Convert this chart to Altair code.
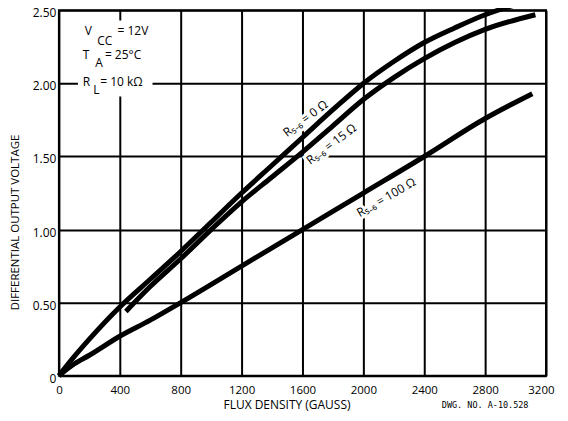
import altair as alt
import pandas as pd

# ---- curve data (flux density in gauss, differential output voltage in volts) ----
g_r0 = [0, 100, 200, 400, 600, 800, 1000, 1200, 1400, 1600, 1800, 2000, 2200, 2400, 2600, 2800, 3040]
v_r0 = [0, 0.13, 0.25, 0.47, 0.66, 0.85, 1.05, 1.25, 1.44, 1.63, 1.82, 2.00, 2.15, 2.28, 2.38, 2.47, 2.55]

g_r15 = [440, 600, 800, 1000, 1200, 1400, 1600, 1800, 2000, 2200, 2400, 2600, 2800, 3130]
v_r15 = [0.44, 0.61, 0.80, 1.00, 1.19, 1.36, 1.53, 1.71, 1.89, 2.04, 2.17, 2.28, 2.37, 2.47]

g_r100 = [0, 100, 200, 400, 600, 800, 1200, 1600, 2000, 2400, 2800, 3110]
v_r100 = [0, 0.08, 0.14, 0.27, 0.38, 0.50, 0.75, 1.00, 1.25, 1.50, 1.76, 1.93]

# ---- axis ticks ----
x_ticks = [0, 400, 800, 1200, 1600, 2000, 2400, 2800, 3200]
y_ticks = [0, 0.5, 1.0, 1.5, 2.0, 2.5]

# ---- curve labels ----
lab_text = ["R₅₋₆ = 0 Ω", "R₅₋₆ = 15 Ω", "R₅₋₆ = 100 Ω"]
lab_g = [1620, 1790, 2150]
lab_v = [1.76, 1.585, 1.22]
lab_angle = [323, 323, 330]

# ---- test-condition block ----
cond_text = ["V", "CC", "= 12V", "T", "A", "= 25°C", "R", "L", "= 10 kΩ"]
cond_g = [170, 252, 385, 157, 238, 302, 157, 225, 272]
cond_v = [2.33, 2.26, 2.33, 2.17, 2.11, 2.17, 1.98, 1.93, 1.98]
box_g = [125, 615]
box_v = [1.91, 2.43]

note_text = ["DWG. NO. A-10.528"]
note_g = [2800]
note_v = [-0.2]

FONT = "Open Sans"

rows = []
for name, gs, vs in [("0", g_r0, v_r0), ("15", g_r15, v_r15), ("100", g_r100, v_r100)]:
    for g, v in zip(gs, vs):
        rows.append({"series": name, "g": g, "v": v})
curves = pd.DataFrame(rows)
labels = pd.DataFrame({"t": lab_text, "g": lab_g, "v": lab_v, "a": lab_angle})
cond = pd.DataFrame({"t": cond_text, "g": cond_g, "v": cond_v})
box = pd.DataFrame({"g": [box_g[0]], "g2": [box_g[1]], "v": [box_v[0]], "v2": [box_v[1]]})
note = pd.DataFrame({"t": note_text, "g": note_g, "v": note_v})

xscale = alt.Scale(domain=[0, 3200], nice=False, zero=False)
yscale = alt.Scale(domain=[0, 2.5], nice=False, zero=False)

last_tick = "datum.value >= %d" % x_ticks[-1]

xaxis = alt.Axis(
    values=x_ticks, format="d", grid=True, gridColor="black", gridWidth=2, gridOpacity=1,
    domain=False, ticks=False, labelPadding=9, labelFont=FONT, labelFontSize=11.5,
    labelColor="black", labelFlush=False, labelOverlap=False, labelBound=False,
    labelAlign={"condition": {"test": last_tick, "value": "right"}, "value": "center"},
    labelOffset={"condition": {"test": last_tick, "value": 8}, "value": 0},
    title="FLUX DENSITY (GAUSS)", titleFont=FONT, titleFontSize=12,
    titleFontWeight="normal", titleColor="black",
    titleX=228, titleY=29, titleAlign="center", titleBaseline="middle", titleAngle=0,
)
yaxis = alt.Axis(
    values=y_ticks, grid=True, gridColor="black", gridWidth=2, gridOpacity=1,
    domain=False, ticks=False, labelPadding=3, labelFont=FONT, labelFontSize=12,
    labelColor="black", labelFlush=False, labelOverlap=False, labelBound=False,
    labelOffset=2.5,
    labelExpr="datum.value == 0 ? '0' : format(datum.value, '.2f')",
    title="DIFFERENTIAL OUTPUT VOLTAGE", titleFont=FONT, titleFontSize=11.5,
    titleFontWeight="normal", titleColor="black",
    titleX=-43, titleY=212, titleAlign="center", titleBaseline="middle", titleAngle=-90,
)

bg = alt.Chart(box).mark_rect(color="white").encode(
    x=alt.X("g:Q", scale=xscale, axis=xaxis),
    x2="g2:Q",
    y=alt.Y("v:Q", scale=yscale, axis=yaxis),
    y2="v2:Q",
)

halo = alt.Chart(labels).mark_text(
    font=FONT, fontSize=12, stroke="white", strokeWidth=6, color="white",
    align="center", baseline="middle",
).encode(x=alt.X("g:Q", scale=xscale), y=alt.Y("v:Q", scale=yscale), text="t:N", angle=alt.Angle("a:Q", scale=None))

lines = alt.Chart(curves).mark_line(
    color="black", strokeWidth=5, interpolate="monotone", strokeCap="butt"
).encode(
    x=alt.X("g:Q", scale=xscale),
    y=alt.Y("v:Q", scale=yscale),
    detail="series:N",
)

texts = alt.Chart(labels).mark_text(
    font=FONT, fontSize=12, color="black", align="center", baseline="middle",
).encode(x=alt.X("g:Q", scale=xscale), y=alt.Y("v:Q", scale=yscale), text="t:N", angle=alt.Angle("a:Q", scale=None))

cond_marks = alt.Chart(cond).mark_text(
    font=FONT, fontSize=12, color="black", align="left", baseline="alphabetic",
).encode(x=alt.X("g:Q", scale=xscale), y=alt.Y("v:Q", scale=yscale), text="t:N")

note_mark = alt.Chart(note).mark_text(
    font="DejaVu Sans Mono", fontSize=8.5, color="black", align="center", baseline="middle",
).encode(x=alt.X("g:Q", scale=xscale), y=alt.Y("v:Q", scale=yscale), text="t:N")

chart = alt.layer(bg, halo, lines, texts, cond_marks, note_mark).properties(
    width=488, height=366,
    autosize=alt.AutoSizeParams(type="none"),
    padding={"left": 51, "top": 2, "right": 14, "bottom": 37},
    background="white",
).configure_view(stroke="black", strokeWidth=2)

chart.save("out.html", embed_options={"renderer": "svg", "actions": False})
